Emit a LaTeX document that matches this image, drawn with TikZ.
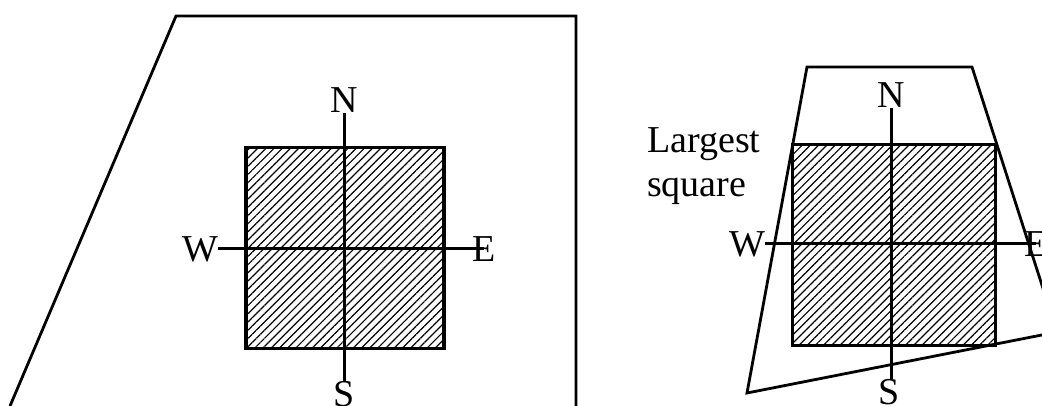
\documentclass[tikz,border=0pt]{standalone}
\usepackage{fontspec}
\setmainfont{Liberation Serif}
\usetikzlibrary{patterns.meta, positioning}

\begin{document}
\begin{tikzpicture}[
    x=1pt, y=-1pt,
    lbl/.style={inner sep=0pt, font=\fontsize{38}{44}\selectfont},
    hatchsq/.style={draw, line width=3.2pt, inner sep=0pt, minimum height=201pt,
        pattern={Lines[angle=45, distance=5.8pt, line width=1.2pt]}},
    outline/.style={line width=2.8pt, line join=miter},
    axis/.style={line width=3pt}
]
\useasboundingbox (0,0) rectangle (1042,406);
\clip (0,0) rectangle (1042,406);

% left: square inside the large region
\draw[outline] (10,406) -- (176,16) -- (576,16) -- (576,406);
\node[hatchsq, minimum width=198pt] (sqL) at (345,248) {};
\node[lbl] (nL) at (344,100) {N};
\node[lbl] (sL) at (344,394) {S};
\node[lbl] (wL) at (200,249) {W};
\node[lbl] (eL) at (484,249) {E};
\draw[axis] (nL.south) -- (nL.south |- sL.north);
\draw[axis] (wL.east) -- (eL.center);

% right: largest square inside the quadrilateral
\draw[outline] (807,67) -- (972,67) -- (1057,332) -- (747,393) -- cycle;
\node[hatchsq, minimum width=203pt] (sqR) at (894,245) {};
\node[lbl] (nR) at (891,95) {N};
\node[lbl] (sR) at (889,392) {S};
\node[lbl] (wR) at (747,244) {W};
\node[lbl] (eR) at (1036,244) {E};
\draw[axis] (nR.south) -- (nR.south |- sR.north);
\draw[axis] (wR.east) -- (eR.center);
\node[lbl, align=left, anchor=north west] (lgsq) at (647,127) {Largest\\square};
\end{tikzpicture}
\end{document}
